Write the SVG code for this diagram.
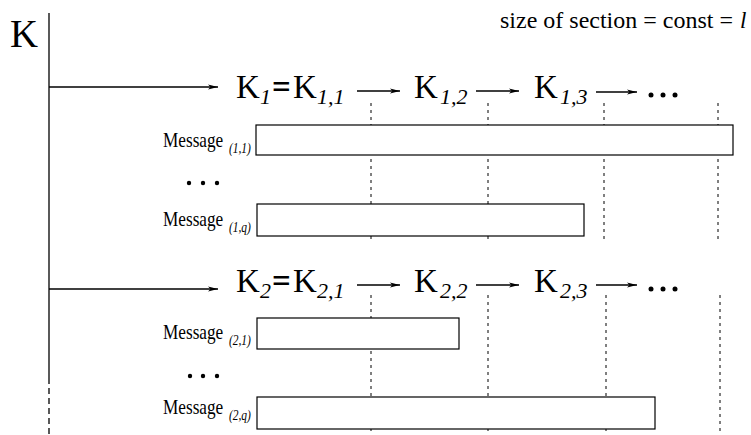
<svg xmlns="http://www.w3.org/2000/svg" width="751" height="435" viewBox="0 0 751 435">
<style>
text{font-family:"Liberation Serif","Times New Roman",serif;fill:#000}
.big{font-size:33px}
.sub{font-size:22px;font-style:italic}
.msg{font-size:21px}
.msub{font-size:14px;font-style:italic}
.box{fill:#fff;stroke:#000;stroke-width:1.2}
.ln{stroke:#000;stroke-width:1.3;fill:none}
.dash{stroke:#000;stroke-width:1;stroke-dasharray:3 4;fill:none}
</style>
<defs>
<marker id="ah" viewBox="0 0 10 6" refX="10" refY="3" markerWidth="11" markerHeight="6" markerUnits="userSpaceOnUse" orient="auto">
<path d="M0,0.5 L10,3 L0,5.5 L2.5,3 Z" fill="#000"/>
</marker>
</defs>
<g id="title">
<text x="500" y="28" font-size="23" textLength="233" lengthAdjust="spacingAndGlyphs">size of section = const  = </text>
<text x="740" y="28" font-size="23" font-style="italic">l</text>
</g>
<g id="axis">
<text x="10" y="47" font-size="40" textLength="28" lengthAdjust="spacingAndGlyphs">K</text>
</g>
<g id="connectors">
<line class="ln" x1="49" y1="13" x2="49" y2="378"/>
<line class="ln" x1="49" y1="378" x2="49" y2="435" stroke-dasharray="6 4"/>
<line class="ln" x1="49" y1="87" x2="218" y2="87" marker-end="url(#ah)"/>
<line class="ln" x1="49" y1="289" x2="218" y2="289" marker-end="url(#ah)"/>
<line class="ln" x1="357" y1="91" x2="400" y2="91" marker-end="url(#ah)"/>
<line class="ln" x1="476" y1="91" x2="519" y2="91" marker-end="url(#ah)"/>
<line class="ln" x1="596" y1="92" x2="637" y2="92" marker-end="url(#ah)"/>
<line class="ln" x1="357" y1="285" x2="400" y2="285" marker-end="url(#ah)"/>
<line class="ln" x1="476" y1="285" x2="519" y2="285" marker-end="url(#ah)"/>
<line class="ln" x1="596" y1="285" x2="637" y2="285" marker-end="url(#ah)"/>
<line class="dash" x1="371" y1="103" x2="371" y2="240"/>
<line class="dash" x1="488" y1="103" x2="488" y2="240"/>
<line class="dash" x1="604" y1="103" x2="604" y2="240"/>
<line class="dash" x1="718" y1="103" x2="718" y2="240"/>
<line class="dash" x1="371" y1="295" x2="371" y2="435"/>
<line class="dash" x1="488" y1="295" x2="488" y2="435"/>
<line class="dash" x1="606" y1="295" x2="606" y2="435"/>
<line class="dash" x1="720" y1="295" x2="720" y2="435"/>
</g>
<g id="row1">
<text class="big" x="236" y="98">K</text><text class="sub" x="260" y="104">1</text>
<text class="big" x="272" y="98" font-weight="bold">=</text>
<text class="big" x="293" y="98">K</text><text class="sub" x="317" y="104">1,1</text>
<text class="big" x="414" y="98">K</text><text class="sub" x="440" y="104">1,2</text>
<text class="big" x="534" y="98">K</text><text class="sub" x="560" y="104">1,3</text>
<circle cx="651" cy="95" r="2.5"/><circle cx="663" cy="95" r="2.5"/><circle cx="675" cy="95" r="2.5"/>
</g>
<g id="row2">
<text class="big" x="236" y="292">K</text><text class="sub" x="260" y="298">2</text>
<text class="big" x="272" y="292" font-weight="bold">=</text>
<text class="big" x="293" y="292">K</text><text class="sub" x="317" y="298">2,1</text>
<text class="big" x="414" y="292">K</text><text class="sub" x="440" y="298">2,2</text>
<text class="big" x="534" y="292">K</text><text class="sub" x="560" y="298">2,3</text>
<circle cx="651" cy="289" r="2.5"/><circle cx="663" cy="289" r="2.5"/><circle cx="675" cy="289" r="2.5"/>
</g>
<g id="msg11">
<text class="msg" transform="translate(163,147) scale(0.82,1)">Message<tspan class="msub" dx="7" dy="6">(1,1)</tspan></text>
<rect class="box" x="256" y="125" width="477" height="30"/>
</g>
<g id="dots1">
<circle cx="189" cy="183" r="2.2"/><circle cx="203" cy="183" r="2.2"/><circle cx="217" cy="183" r="2.2"/>
</g>
<g id="msg1q">
<text class="msg" transform="translate(163,226) scale(0.82,1)">Message<tspan class="msub" dx="7" dy="6">(1,q)</tspan></text>
<rect class="box" x="257" y="204" width="327" height="32"/>
</g>
<g id="msg21">
<text class="msg" transform="translate(163,339) scale(0.82,1)">Message<tspan class="msub" dx="7" dy="6">(2,1)</tspan></text>
<rect class="box" x="257" y="318" width="202" height="31"/>
</g>
<g id="dots2">
<circle cx="190" cy="376" r="2.2"/><circle cx="203" cy="376" r="2.2"/><circle cx="217" cy="376" r="2.2"/>
</g>
<g id="msg2q">
<text class="msg" transform="translate(163,414) scale(0.82,1)">Message<tspan class="msub" dx="7" dy="6">(2,q)</tspan></text>
<rect class="box" x="257" y="397" width="398" height="32"/>
</g>
</svg>
